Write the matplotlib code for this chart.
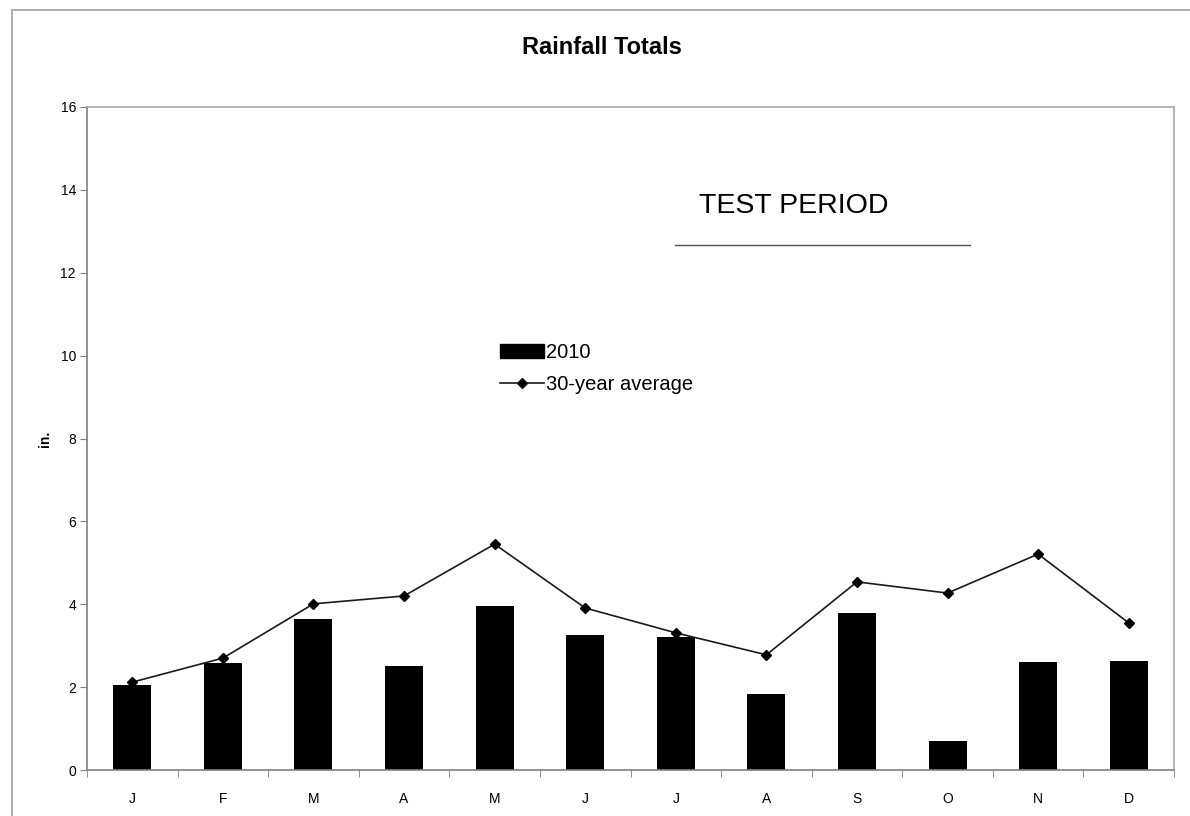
import matplotlib
matplotlib.use("Agg")
import matplotlib.pyplot as plt
from matplotlib.patches import Rectangle
from matplotlib.lines import Line2D
import numpy as np

months = ["J", "F", "M", "A", "M", "J", "J", "A", "S", "O", "N", "D"]
rain_2010 = [2.05, 2.58, 3.64, 2.51, 3.96, 3.26, 3.21, 1.83, 3.79, 0.70, 2.61, 2.63]
avg_30yr = [2.12, 2.70, 4.01, 4.20, 5.45, 3.91, 3.31, 2.78, 4.54, 4.27, 5.21, 3.55]
yticks = [0, 2, 4, 6, 8, 10, 12, 14, 16]

plt.rcParams['font.family'] = ['Liberation Sans', 'DejaVu Sans']

W, H = 1190, 816
fig = plt.figure(figsize=(W / 100, H / 100), dpi=100)
fig.patch.set_facecolor('white')

# outer chart frame
fig.patches.append(Rectangle((12 / W, -0.01), 1.0, 1 - 10 / H + 0.01, transform=fig.transFigure,
                             fill=False, edgecolor='#b0b0b0', linewidth=1.5))

ax = fig.add_axes([87 / W, 1 - 770 / H, (1174 - 87) / W, (770 - 107) / H])
x = np.arange(len(months))
ax.bar(x, rain_2010, width=0.42, color='black', label='2010', zorder=2)
ax.plot(x, avg_30yr, color='#1a1a1a', linewidth=1.2, marker='D', markersize=5.5,
        markerfacecolor='black', markeredgecolor='black', label='30-year average', zorder=3)

ax.set_xlim(-0.5, len(months) - 0.5)
ax.set_ylim(0, 16)
ax.set_yticks(yticks)
ax.set_yticklabels([str(v) for v in yticks], fontsize=10)
ax.set_xticks(x)
ax.set_xticklabels(months, fontsize=10)
ax.tick_params(axis='x', which='major', length=0, pad=16)
ax.set_xticks(np.arange(-0.5, len(months), 1.0), minor=True)
ax.tick_params(axis='x', which='minor', length=5, color='#808080', direction='out')
ax.tick_params(axis='y', length=5, color='#808080', direction='out', pad=3)

for s in ['left', 'bottom']:
    ax.spines[s].set_color('#808080')
    ax.spines[s].set_linewidth(1.2)
for s in ['top', 'right']:
    ax.spines[s].set_color('#a8a8a8')
    ax.spines[s].set_linewidth(1.2)

ax.set_ylabel('in.', fontsize=10, fontweight='bold', labelpad=6)

fig.text(602 / W, 1 - 48 / H, 'Rainfall Totals', ha='center', va='center',
         fontsize=17, fontweight='bold')

fig.text(794 / W, 1 - 206 / H, 'TEST PERIOD', ha='center', va='center', fontsize=20.5)
fig.add_artist(Line2D([675 / W, 970 / W], [1 - 245 / H, 1 - 245 / H],
                      transform=fig.transFigure, color='#505050', linewidth=1))

handles = [Rectangle((0, 0), 1, 1, color='black'),
           Line2D([], [], color='#1a1a1a', linewidth=1.2, marker='D', markersize=5,
                  markerfacecolor='black')]
leg = ax.legend(handles, ['2010', '30-year average'], loc='upper left',
                bbox_to_anchor=(500 / W, 1 - 343 / H), bbox_transform=fig.transFigure,
                frameon=False, fontsize=14.5, handlelength=2.2, handleheight=0.7,
                handletextpad=0.1, labelspacing=0.65, borderaxespad=0, borderpad=0)

fig.savefig('out.png', dpi=100, facecolor='white')
